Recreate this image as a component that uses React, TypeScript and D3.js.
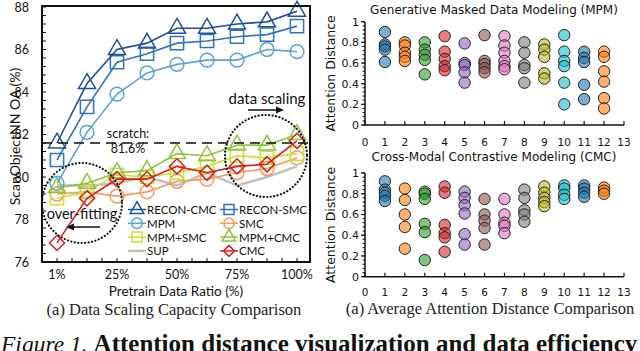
import React from "react";
import * as d3 from "d3";

// left chart: data scaling
const ratios = ["1%", "12.5%", "25%", "37.5%", "50%", "62.5%", "75%", "87.5%", "100%"];
const ratioTicks = ["1%", "25%", "50%", "75%", "100%"];
const accTicks = [76, 78, 80, 82, 84, 86, 88];
const scratchAcc = 81.6;

const reconCmc = [81.6, 84.4, 86.0, 86.3, 87.0, 87.0, 87.2, 87.3, 87.8];
const reconSmc = [80.8, 83.3, 85.4, 85.8, 86.3, 86.4, 86.6, 86.7, 87.1];
const mpm = [79.7, 82.1, 83.9, 84.9, 85.3, 85.5, 85.5, 86.0, 85.9];
const smc = [79.2, 79.3, 79.1, 79.3, 79.8, 79.9, 80.2, 80.4, 80.9];
const mpmSmc = [79.0, 79.3, 80.1, 80.0, 80.2, 80.5, 81.0, 80.9, 81.1];
const mpmCmc = [79.5, 79.7, 80.2, 80.3, 81.1, 81.0, 81.5, 81.5, 82.0];
const sup = [79.6, 79.6, 79.7, 80.0, 79.6, 80.2, 79.6, 80.0, 80.5];
const cmc = [76.9, 79.0, 79.9, 79.9, 80.5, 80.2, 80.5, 80.6, 81.7];

// right charts: attention distance per layer
const layers = [1, 2, 3, 4, 5, 6, 7, 8, 9, 10, 11, 12];
const layerTicks = [0, 1, 2, 3, 4, 5, 6, 7, 8, 9, 10, 11, 12, 13];
const distTicks = [0, 0.2, 0.4, 0.6, 0.8, 1];

const mpmDist = [
  [0.9, 0.78, 0.76, 0.73, 0.61],
  [0.8, 0.77, 0.7, 0.66, 0.62],
  [0.8, 0.73, 0.68, 0.63, 0.49],
  [0.86, 0.71, 0.64, 0.57, 0.53],
  [0.79, 0.6, 0.58, 0.51, 0.41],
  [0.87, 0.62, 0.59, 0.55, 0.51],
  [0.86, 0.77, 0.7, 0.62, 0.57, 0.54],
  [0.8, 0.7, 0.58, 0.55, 0.41],
  [0.78, 0.73, 0.66, 0.5, 0.45],
  [0.87, 0.71, 0.62, 0.57, 0.41, 0.2],
  [0.71, 0.65, 0.61, 0.39, 0.25],
  [0.71, 0.66, 0.52, 0.42, 0.26, 0.16],
];

const cmcDist = [
  [0.92, 0.84, 0.81, 0.78, 0.73],
  [0.85, 0.74, 0.6, 0.48, 0.27],
  [0.82, 0.8, 0.75, 0.51, 0.43, 0.16],
  [0.87, 0.81, 0.5, 0.42, 0.38, 0.24],
  [0.82, 0.76, 0.69, 0.61, 0.41, 0.31],
  [0.75, 0.6, 0.54, 0.47, 0.31],
  [0.75, 0.6, 0.52, 0.49, 0.42],
  [0.84, 0.76, 0.64, 0.6, 0.53],
  [0.87, 0.81, 0.76, 0.72, 0.68],
  [0.88, 0.85, 0.79, 0.75],
  [0.88, 0.85, 0.81, 0.77],
  [0.86, 0.83, 0.8],
];

const series = [
  { name: "RECON-CMC", values: reconCmc, color: "#1f4e9c", marker: "triangle" },
  { name: "RECON-SMC", values: reconSmc, color: "#2e74b8", marker: "square" },
  { name: "MPM", values: mpm, color: "#5aa2d8", marker: "circle" },
  { name: "SMC", values: smc, color: "#f59a5c", marker: "circle" },
  { name: "MPM+SMC", values: mpmSmc, color: "#c9e034", marker: "square" },
  { name: "MPM+CMC", values: mpmCmc, color: "#8cc63f", marker: "triangle" },
  { name: "SUP", values: sup, color: "#c0c0c0", marker: "none" },
  { name: "CMC", values: cmc, color: "#d91c1c", marker: "diamond" },
];
// draw order (bottom first)
const drawOrder = ["SUP", "SMC", "MPM+SMC", "MPM+CMC", "CMC", "MPM", "RECON-SMC", "RECON-CMC"];

const layerColors = d3.schemeCategory10;

const sans = "Lato, 'Liberation Sans', sans-serif";
const dv = "'DejaVu Sans', Verdana, sans-serif";
const serif = "'Liberation Serif', 'Times New Roman', serif";

function markerPath(kind: string, big = true) {
  if (kind === "triangle") return d3.symbol(d3.symbolTriangle, big ? 125 : 80)()!;
  if (kind === "square") return d3.symbol(d3.symbolSquare, big ? 175 : 100)()!;
  if (kind === "circle") return d3.symbol(d3.symbolCircle, big ? 150 : 85)()!;
  if (kind === "diamond") return d3.symbol(d3.symbolSquare, big ? 115 : 60)()!;
  return "";
}

function Marker({ kind, x, y, color, big = true }: any) {
  if (kind === "none") return null;
  const rot = kind === "diamond" ? " rotate(45)" : "";
  return (
    <path
      d={markerPath(kind, big)}
      transform={`translate(${x},${y})${rot}`}
      fill="none"
      stroke={color}
      strokeWidth={1.5}
    />
  );
}

function ScalingChart() {
  const left = 42, right = 310, top = 7, bottom = 262;
  const x = d3.scalePoint<string>().domain(ratios).range([57, 297]);
  const y = d3.scaleLinear().domain([76, 88]).range([bottom, top]);
  const line = d3
    .line<number>()
    .x((_, i) => x(ratios[i])!)
    .y((d) => y(d));
  const step = x.step();
  const minorY = d3.range(76, 88.001, 0.4);
  const minorX = d3.range(0, 17).map((i) => 57 + (i * step) / 2);

  const legendRows = [
    ["RECON-CMC", "RECON-SMC"],
    ["MPM", "SMC"],
    ["MPM+SMC", "MPM+CMC"],
    ["SUP", "CMC"],
  ];

  return (
    <g>
      {/* series */}
      {drawOrder.map((nm) => {
        const s = series.find((d) => d.name === nm)!;
        return (
          <g key={nm}>
            <path
              d={line(s.values)!}
              fill="none"
              stroke={s.color}
              strokeWidth={nm === "SUP" ? 2.5 : 1.6}
            />
            {s.values.map((v, i) => (
              <Marker key={i} kind={s.marker} x={x(ratios[i])} y={y(v)} color={s.color} />
            ))}
          </g>
        );
      })}

      {/* scratch line */}
      <line
        x1={left}
        x2={right}
        y1={y(scratchAcc)}
        y2={y(scratchAcc)}
        stroke="#111"
        strokeWidth={1.5}
        strokeDasharray="10,6"
      />
      <text x={128} y={138} fontFamily={sans} fontSize={12.5} textAnchor="middle" fill="#111">
        scratch:
      </text>
      <text x={128} y={153} fontFamily={sans} fontSize={12.5} textAnchor="middle" fill="#111">
        {scratchAcc}%
      </text>

      {/* annotations */}
      <circle cx={82} cy={203} r={40} fill="none" stroke="#111" strokeWidth={2.2} strokeDasharray="0.1,3.4" strokeLinecap="round" />
      <circle cx={266} cy={156} r={41} fill="none" stroke="#111" strokeWidth={2.2} strokeDasharray="0.1,3.4" strokeLinecap="round" />
      <text x={82} y={219} fontFamily={sans} fontSize={14.5} textAnchor="middle" fill="#111">
        over-fitting
      </text>
      <line x1={100} x2={70} y1={227} y2={227} stroke="#111" strokeWidth={1.5} />
      <path d="M66,227 L74,223.5 L74,230.5 Z" fill="#111" />
      <text x={267} y={104} fontFamily={sans} fontSize={15} textAnchor="middle" fill="#111">
        data scaling
      </text>
      <line x1={248} x2={279} y1={110} y2={110} stroke="#111" strokeWidth={1.5} />
      <path d="M284,110 L276,106.5 L276,113.5 Z" fill="#111" />

      {/* legend */}
      {legendRows.map((row, ri) =>
        row.map((nm, ci) => {
          const s = series.find((d) => d.name === nm)!;
          const cx = ci === 0 ? 137 : 229;
          const cy = 209.5 + ri * 13.8;
          return (
            <g key={nm}>
              <line x1={cx - 9} x2={cx + 9} y1={cy} y2={cy} stroke={s.color} strokeWidth={nm === "SUP" ? 2.5 : 1.5} />
              <Marker kind={s.marker} x={cx} y={cy} color={s.color} big={false} />
              <text x={cx + 10} y={cy + 4.5} fontFamily={sans} fontSize={11.5} fill="#111">
                {nm}
              </text>
            </g>
          );
        })
      )}

      {/* frame and ticks */}
      <rect x={left} y={top - 1} width={right - left} height={bottom - top + 1} fill="none" stroke="#111" strokeWidth={2} />
      {minorY.map((v, i) => (
        <line key={i} x1={left} x2={left + 4} y1={y(v)} y2={y(v)} stroke="#111" strokeWidth={1} />
      ))}
      {minorX.map((vx, i) => (
        <line key={i} x1={vx} x2={vx} y1={bottom} y2={bottom - 4} stroke="#111" strokeWidth={1} />
      ))}
      {accTicks.map((t) => (
        <text key={t} x={29} y={y(t) + 4.5} fontFamily={sans} fontSize={12.5} textAnchor="end" fill="#111">
          {t}
        </text>
      ))}
      {ratioTicks.map((t) => (
        <text key={t} x={x(t)} y={278.5} fontFamily={sans} fontSize={12.5} textAnchor="middle" fill="#111">
          {t}
        </text>
      ))}
      <text x={176} y={296} fontFamily={sans} fontSize={13.5} textAnchor="middle" fill="#111">
        Pretrain Data Ratio (%)
      </text>
      <text
        transform={`translate(20,${(top + bottom) / 2 + 2}) rotate(-90)`}
        fontFamily={sans}
        fontSize={14}
        textAnchor="middle"
        fill="#111"
      >
        ScanObjectNN OA (%)
      </text>
      <text x={174} y={315} fontFamily={serif} fontSize={16.5} textAnchor="middle" fill="#222">
        (a) Data Scaling Capacity Comparison
      </text>
    </g>
  );
}

function DistChart({ data, title, y0, y1, titleY, tickY }: any) {
  const x = d3.scaleLinear().domain([0, 13]).range([365, 624]);
  const y = d3.scaleLinear().domain([0, 1]).range([y0, y1]);
  const minor = d3.range(0, 1.0001, 0.04);
  return (
    <g>
      <text x={494} y={titleY} fontFamily={dv} fontSize={12} textAnchor="middle" fill="#111">
        {title}
      </text>
      <text
        transform={`translate(335,${(y0 + y1) / 2}) rotate(-90)`}
        fontFamily={dv}
        fontSize={12.5}
        textAnchor="middle"
        fill="#111"
      >
        Attention Distance
      </text>
      <line x1={x(0)} x2={x(13)} y1={y0} y2={y0} stroke="#111" strokeWidth={1.5} />
      <line x1={x(0)} x2={x(0)} y1={y0} y2={y1} stroke="#111" strokeWidth={1.5} />
      {layerTicks.map((t) => (
        <g key={t}>
          <line x1={x(t)} x2={x(t)} y1={y0} y2={y0 - 4} stroke="#111" strokeWidth={1.2} />
          <text x={x(t)} y={tickY} fontFamily={dv} fontSize={10.5} textAnchor="middle" fill="#111">
            {t}
          </text>
        </g>
      ))}
      {minor.map((v, i) => (
        <line key={i} x1={x(0) - 2.5} x2={x(0)} y1={y(v)} y2={y(v)} stroke="#111" strokeWidth={1} />
      ))}
      {distTicks.map((t) => (
        <g key={t}>
          <line x1={x(0) - 4} x2={x(0)} y1={y(t)} y2={y(t)} stroke="#111" strokeWidth={1.2} />
          <text x={359} y={y(t) + 4} fontFamily={dv} fontSize={11} textAnchor="end" fill="#111">
            {t}
          </text>
        </g>
      ))}
      {layers.map((l, li) =>
        data[li].map((v: number, j: number) => (
          <circle
            key={`${l}-${j}`}
            cx={x(l)}
            cy={y(v)}
            r={5.7}
            fill={layerColors[li % 10]}
            fillOpacity={0.6}
            stroke="#222"
            strokeWidth={1}
          />
        ))
      )}
    </g>
  );
}

export default function App() {
  return (
    <svg
      width={640}
      height={351}
      style={{ position: "absolute", left: 0, top: 0, background: "#fff" }}
    >
      <rect width={640} height={351} fill="#fff" />
      <ScalingChart />
      <DistChart data={mpmDist} title="Generative Masked Data Modeling (MPM)" y0={125} y1={21.7} titleY={14} tickY={146} />
      <DistChart data={cmcDist} title="Cross-Modal Contrastive Modeling (CMC)" y0={276.7} y1={173} titleY={161} tickY={296} />
      <text x={490} y={314} fontFamily={serif} fontSize={16.5} textAnchor="middle" fill="#222">
        (a) Average Attention Distance Comparison
      </text>
      <text x={1} y={352} fontFamily={serif} fill="#111">
        <tspan fontStyle="italic" fontSize={23.5}>Figure 1.</tspan>
        <tspan fontWeight="bold" fontSize={25} dx={6}>Attention distance visualization and data efficiency</tspan>
      </text>
    </svg>
  );
}
